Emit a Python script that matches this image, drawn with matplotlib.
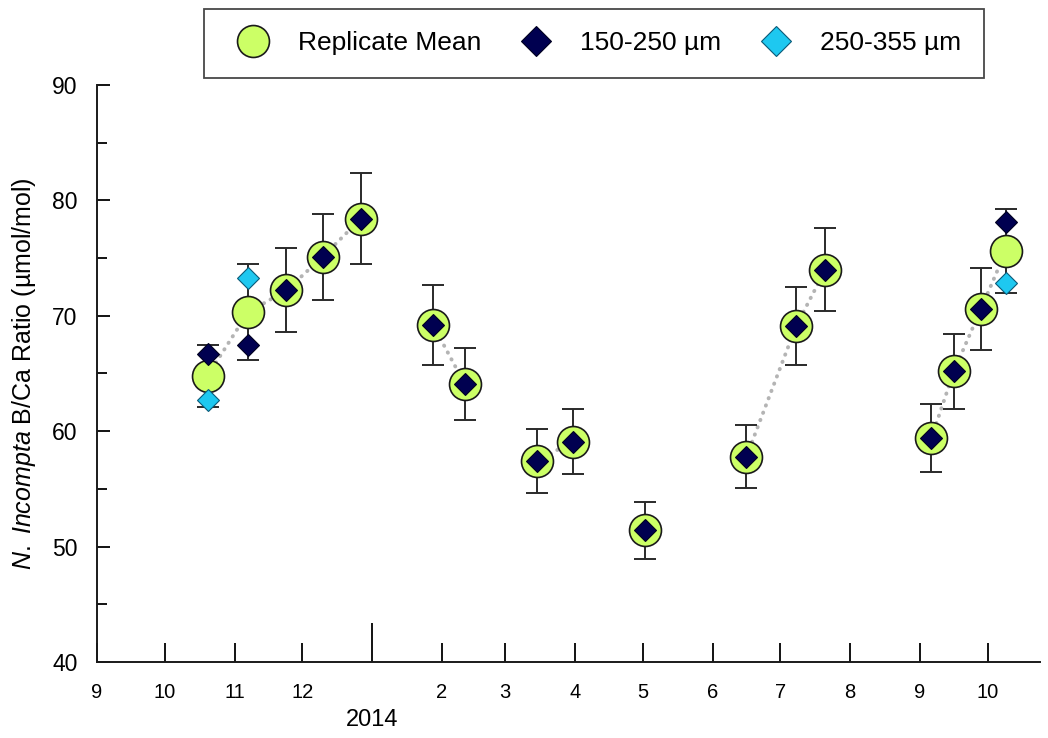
import numpy as np
import pandas as pd
import matplotlib
matplotlib.use("Agg")
import matplotlib.pyplot as plt
import matplotlib.dates as mdates
from matplotlib.ticker import MultipleLocator, FixedLocator, FixedFormatter

plt.rcParams['font.family'] = ['Liberation Sans', 'DejaVu Sans']
plt.rcParams['mathtext.fontset'] = 'custom'
plt.rcParams['mathtext.it'] = 'Liberation Sans:italic'
plt.rcParams['mathtext.rm'] = 'Liberation Sans'

# sampling dates and replicate statistics
dates = pd.to_datetime([
    "2013-10-20", "2013-11-07", "2013-11-24", "2013-12-10", "2013-12-27",
    "2014-01-28", "2014-02-11", "2014-03-15", "2014-03-31", "2014-05-02",
    "2014-06-16", "2014-07-08", "2014-07-21", "2014-09-06", "2014-09-16",
    "2014-09-28", "2014-10-09",
])
mean = [64.8, 70.3, 72.2, 75.1, 78.4, 69.2, 64.1, 57.4, 59.1, 51.4,
        57.8, 69.1, 74.0, 59.4, 65.2, 70.6, 75.6]
err = [2.7, 4.15, 3.65, 3.75, 3.95, 3.45, 3.1, 2.8, 2.85, 2.5,
       2.75, 3.35, 3.6, 2.95, 3.25, 3.55, 3.65]
small = [66.7, 67.5, 72.2, 75.1, 78.4, 69.2, 64.1, 57.4, 59.1, 51.4,
         57.8, 69.1, 74.0, 59.4, 65.2, 70.6, 78.1]
# larger size fraction only measured on three dates
large_idx = [0, 1, 16]
large = [62.7, 73.3, 72.8]

# consecutive samples joined by a dotted line
runs = [(0, 5), (5, 7), (7, 9), (9, 10), (10, 13), (13, 17)]

fig = plt.figure(figsize=(10.48, 7.38), dpi=100)
ax = fig.add_axes([0.0926, 0.103, 0.8994, 0.782])

x = mdates.date2num(dates)
mean = np.array(mean)
for a, b in runs:
    ax.plot(x[a:b], mean[a:b], ls=(0, (0.1, 1.9)), color='#b4b4b4', lw=2.8,
            dash_capstyle='round', zorder=1)

ax.errorbar(x, mean, yerr=err, fmt='none', ecolor='#2a2a2a', elinewidth=1.4,
            capsize=8, capthick=1.4, zorder=2)
ax.plot(x, mean, 'o', ms=23, mfc='#ccff66', mec='#1a1a1a', mew=1.2,
        zorder=3, label='Replicate Mean')
ax.plot(x, small, 'D', ms=11.5, mfc='#000050', mec='#000020', mew=0.8,
        zorder=4, label='150-250 µm')
ax.plot(x[large_idx], large, 'D', ms=11.5, mfc='#1ec8f0', mec='#0a5a78',
        mew=0.8, zorder=4, label='250-355 µm')

ax.set_ylim(40, 90)
ax.set_xlim(mdates.date2num(pd.Timestamp("2013-09-01")),
            mdates.date2num(pd.Timestamp("2014-10-24")))

# month ticks; January carries the year below it
months = pd.date_range("2013-09-01", "2014-10-01", freq="MS")
other = [m for m in months if m.month != 1]
jan = [m for m in months if m.month == 1]
ax.xaxis.set_major_locator(FixedLocator(mdates.date2num(other)))
ax.xaxis.set_major_formatter(FixedFormatter([str(m.month) for m in other]))
ax.xaxis.set_minor_locator(FixedLocator(mdates.date2num(jan)))
ax.xaxis.set_minor_formatter(FixedFormatter([str(m.year) for m in jan]))
ax.tick_params(axis='x', which='major', direction='in', length=14, width=1.3,
               pad=15, labelsize=14.5)
ax.tick_params(axis='x', which='minor', direction='in', length=28, width=1.3,
               pad=34, labelsize=17)

ax.yaxis.set_major_locator(MultipleLocator(10))
ax.yaxis.set_minor_locator(MultipleLocator(5))
ax.tick_params(axis='y', which='major', direction='in', length=9, width=1.3,
               pad=14, labelsize=16.5)
ax.tick_params(axis='y', which='minor', direction='in', length=7, width=1.3)

for s in ['top', 'right']:
    ax.spines[s].set_visible(False)
for s in ['left', 'bottom']:
    ax.spines[s].set_linewidth(1.4)
    ax.spines[s].set_color('#1a1a1a')

ax.set_ylabel(r'$\it{N.\ Incompta}$ B/Ca Ratio (µmol/mol)', fontsize=18,
              labelpad=10)

leg = fig.legend(loc='upper center', bbox_to_anchor=(0.567, 1.006), ncol=3,
                 fontsize=19, frameon=True, fancybox=False, edgecolor='#1a1a1a',
                 handletextpad=0.7, columnspacing=1.05, borderpad=0.85,
                 markerscale=1.0)
leg.get_frame().set_linewidth(1.3)
leg.legend_handles[1].set_markersize(15)
leg.legend_handles[2].set_markersize(15)

fig.savefig("out.png", dpi=100)
